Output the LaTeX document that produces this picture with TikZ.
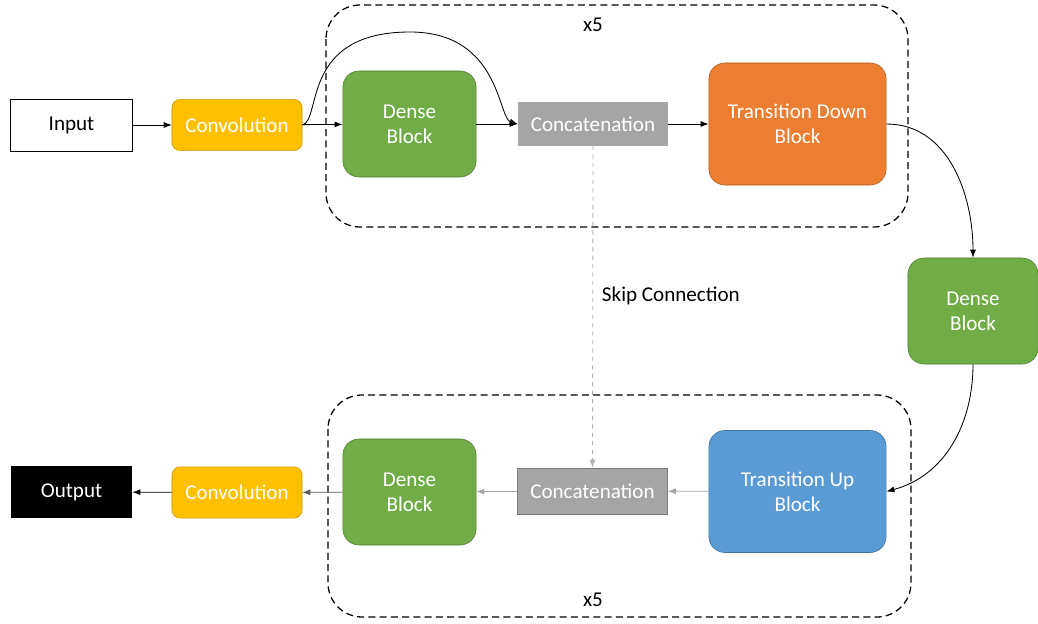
\documentclass[tikz,border=0pt]{standalone}
\usepackage{fontspec}
\setmainfont{Carlito}
\usepackage{xcolor}
\usetikzlibrary{arrows.meta}

\definecolor{convcol}{HTML}{FFC000}
\definecolor{convline}{HTML}{C59A00}
\definecolor{densecol}{HTML}{70AD47}
\definecolor{denseline}{HTML}{507E32}
\definecolor{catcol}{HTML}{A5A5A5}
\definecolor{catline}{HTML}{7B7B7B}
\definecolor{downcol}{HTML}{ED7D31}
\definecolor{downline}{HTML}{AE5A21}
\definecolor{upcol}{HTML}{5B9BD5}
\definecolor{upline}{HTML}{41719C}

\begin{document}
\begin{tikzpicture}[x=0.025cm, y=-0.025cm,
    font=\fontsize{15}{18}\selectfont,
    >={Latex[length=2mm,width=1.5mm]},
    conn/.style={->, line width=0.6pt},
    convbox/.style={draw=convline, fill=convcol, text=white, rounded corners=0.2cm,
        minimum width=3.25cm, minimum height=1.28cm},
    densebox/.style={draw=denseline, fill=densecol, text=white, rounded corners=0.4cm,
        minimum width=3.33cm, minimum height=2.65cm, align=center},
    catbox/.style={fill=catcol, text=white, minimum width=3.75cm, minimum height=1.08cm},
    transbox/.style={text=white, rounded corners=0.4cm, minimum width=4.43cm,
        minimum height=3.05cm, align=center},
    groupbox/.style={dashed, dash pattern=on 5pt off 3pt, line width=0.9pt, rounded corners=0.85cm}]
\useasboundingbox (0,0) rectangle (1038,624);

% Encoder group
\draw[groupbox] (326,5) rectangle (908,227);
\node (rep1) at (593,25) {x5};

% Top row
\node[draw, line width=0.6pt, minimum width=3.03cm, minimum height=1.3cm] (input) at (71.5,125) {Input};
\node[convbox] (conv1) at (237,125) {Convolution};
\node[densebox] (dense1) at (409.5,124) {Dense\\Block};
\node[catbox] (cat1) at (593,124) {Concatenation};
\node[transbox, draw=downline, fill=downcol] (down) at (797.5,124) {Transition Down\\Block};

% Bottleneck
\node[densebox, minimum width=3.25cm] (dense2) at (973,311) {Dense\\Block};

% Decoder group
\draw[groupbox] (328,395) rectangle (911,617);
\node (rep2) at (593,600) {x5};

% Bottom row
\node[transbox, draw=upline, fill=upcol] (up) at (797.5,491.5) {Transition Up\\Block};
\node[catbox, draw=catline, minimum height=1.15cm] (cat2) at (592.5,491) {Concatenation};
\node[densebox] (dense3) at (409.5,492) {Dense\\Block};
\node[convbox] (conv2) at (237,492.5) {Convolution};
\node[fill=black, text=white, minimum width=3.03cm, minimum height=1.3cm] (output) at (71.5,492) {Output};

% Connections
\draw[conn] (input) -- (conv1);
\draw[conn] (conv1) -- (dense1);
\draw[conn] (conv1.east) .. controls (322,120) and (300,32) .. (410,32)
    .. controls (500,32) and (498,118) .. (cat1.west);
\draw[conn] (dense1) -- (cat1);
\draw[conn] (cat1) -- (down);
\draw[conn] (down.east) to[out=0, in=90] (dense2.north);
\draw[conn] (dense2.south) to[out=-90, in=15] (up.east);
\draw[conn, catcol] (up) -- (cat2);
\draw[conn, catcol] (cat2) -- (dense3);
\draw[conn, black!65] (dense3) -- (conv2);
\draw[conn] (conv2) -- (output);

% Skip connection
\draw[conn, catcol!85, dashed] (cat1.south) -- (cat2.north);
\node[anchor=west] (skip) at (597,296) {Skip Connection};
\end{tikzpicture}
\end{document}
